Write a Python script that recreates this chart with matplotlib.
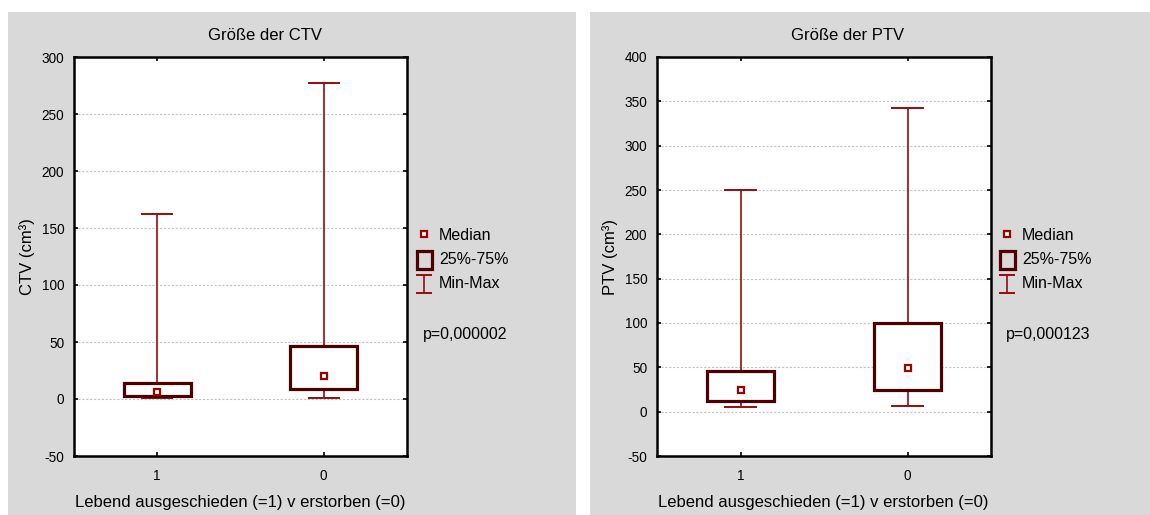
import matplotlib
matplotlib.use("Agg")
import matplotlib.pyplot as plt
from matplotlib.patches import Rectangle
from matplotlib.lines import Line2D

plt.rcParams['font.family'] = ['Liberation Sans', 'DejaVu Sans']

# Group labels on the x axis (1 = discharged alive, 0 = deceased)
groups = ["1", "0"]

# CTV volumes (cm³): min, 25 %, median, 75 %, max per group
ctv_min = [1.0, 1.2]
ctv_q1 = [2.8, 8.5]
ctv_med = [6.0, 20.0]
ctv_q3 = [14.0, 46.5]
ctv_max = [162.0, 277.0]

# PTV volumes (cm³)
ptv_min = [4.8, 6.0]
ptv_q1 = [12.5, 24.5]
ptv_med = [25.0, 49.5]
ptv_q3 = [46.0, 100.0]
ptv_max = [250.0, 343.0]

ctv_ticks = [-50, 0, 50, 100, 150, 200, 250, 300]
ptv_ticks = [-50, 0, 50, 100, 150, 200, 250, 300, 350, 400]

titles = ["Größe der CTV", "Größe der PTV"]
ylabels = ["CTV (cm³)", "PTV (cm³)"]
xlabel = "Lebend ausgeschieden (=1) v erstorben (=0)"
pvalues = ["p=0,000002", "p=0,000123"]
legend_labels = ["Median", "25%-75%", "Min-Max"]

W, H = 1150, 515
WHISK = "#960c0c"
BOXC = "#4e0000"
PANEL = "#d9d9d9"

fig = plt.figure(figsize=(W / 100, H / 100), dpi=100)
fig.patch.set_facecolor("white")


def fx(px):
    return px / W


def fy(py):
    return 1 - py / H


# grey panel backgrounds, kept behind the axes
for x0, x1 in [(8, 576), (590, W)]:
    fig.patches.append(Rectangle((fx(x0), 0), fx(x1) - fx(x0), fy(12),
                                 transform=fig.transFigure, facecolor=PANEL,
                                 edgecolor="none", zorder=-10))

panels = [
    dict(left=74, right=407, ticks=ctv_ticks, ylim=(-50, 300),
         data=(ctv_min, ctv_q1, ctv_med, ctv_q3, ctv_max), off=0),
    dict(left=657, right=991, ticks=ptv_ticks, ylim=(-50, 400),
         data=(ptv_min, ptv_q1, ptv_med, ptv_q3, ptv_max), off=583),
]

for i, p in enumerate(panels):
    top, bottom = 57, 456
    ax = fig.add_axes([fx(p["left"]), fy(bottom), fx(p["right"]) - fx(p["left"]),
                       (bottom - top) / H])
    ax.set_zorder(1)
    ax.set_facecolor("white")
    mn, q1, md, q3, mx = p["data"]
    pos = list(range(len(groups)))
    bw, cw = 0.4, 0.18
    for k in pos:
        # whiskers with caps
        ax.plot([k, k], [q3[k], mx[k]], color=WHISK, lw=1.2, zorder=3, solid_capstyle="butt")
        ax.plot([k, k], [mn[k], q1[k]], color=WHISK, lw=1.2, zorder=3, solid_capstyle="butt")
        ax.plot([k - cw / 2, k + cw / 2], [mx[k], mx[k]], color=WHISK, lw=1.4, zorder=3)
        ax.plot([k - cw / 2, k + cw / 2], [mn[k], mn[k]], color=WHISK, lw=1.4, zorder=3)
        # interquartile box
        ax.add_patch(Rectangle((k - bw / 2, q1[k]), bw, q3[k] - q1[k],
                               facecolor="white", edgecolor=BOXC, lw=2.3, zorder=4))
        # median marker
        ax.plot([k], [md[k]], marker="s", ms=5, mfc="white", mec="#a00000",
                mew=1.6, ls="none", zorder=5)

    ax.set_xlim(-0.5, 1.5)
    ax.set_ylim(*p["ylim"])
    ax.set_xticks(pos)
    ax.set_xticklabels(groups)
    ax.set_yticks(p["ticks"])
    ax.set_yticklabels([str(t) for t in p["ticks"]])
    ax.yaxis.grid(True, color="#c4c4c4", ls=(0, (2, 1.5)), lw=0.8)
    ax.set_axisbelow(True)
    ax.tick_params(direction="in", length=3, width=1.2, top=True, right=True,
                   labelsize=9.8, colors="black", pad=7)
    ax.tick_params(axis="x", pad=9)
    for s in ax.spines.values():
        s.set_linewidth(1.8)
        s.set_color("black")

    off = p["off"]
    fig.text(fx(265 + off), fy(35), titles[i], ha="center", va="center", fontsize=12)
    fig.text(fx(240 + off), fy(503), xlabel, ha="center", va="center", fontsize=12)
    fig.text(fx(27 + off), fy(257), ylabels[i], ha="center", va="center",
             rotation=90, fontsize=12)

    # legend keys drawn beside the plot
    lx = 424 + off
    fig.lines.append(Line2D([fx(lx)], [fy(234)], marker="s", ms=5, mfc="white",
                            mec="#a00000", mew=1.6, ls="none",
                            transform=fig.transFigure))
    fig.patches.append(Rectangle((fx(417 + off), fy(269)), fx(15), 18 / H,
                                 transform=fig.transFigure, facecolor=PANEL,
                                 edgecolor=BOXC, lw=2.3))
    fig.lines.append(Line2D([fx(lx), fx(lx)], [fy(275), fy(293)], color=WHISK,
                            lw=1.2, transform=fig.transFigure))
    for yy in (275, 293):
        fig.lines.append(Line2D([fx(417 + off), fx(431 + off)], [fy(yy), fy(yy)],
                                color=WHISK, lw=1.4, transform=fig.transFigure))
    for lab, yy in zip(legend_labels, (235, 260, 284)):
        fig.text(fx(439 + off), fy(yy), lab, ha="left", va="center", fontsize=11.5)
    fig.text(fx(423 + off), fy(334), pvalues[i], ha="left", va="center", fontsize=11.5)

fig.savefig("out.png", dpi=100, facecolor="white")
